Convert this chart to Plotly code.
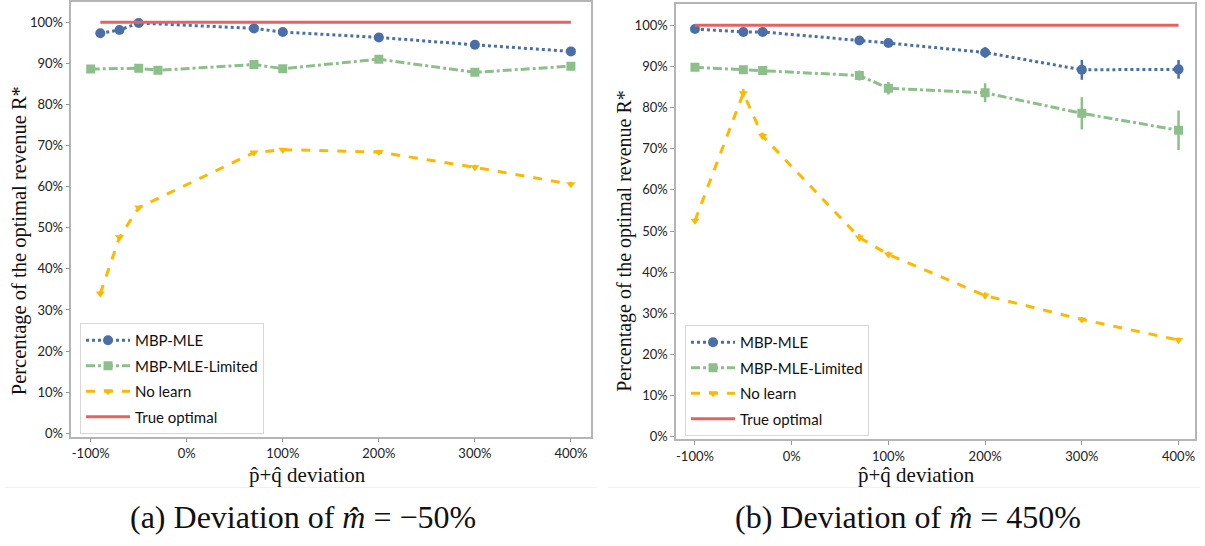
import plotly.graph_objects as go

# ---------------- data ----------------
# Panel (a): deviation of m-hat = -50%
a_mle_x = [-90, -70, -50, 70, 100, 200, 300, 400]
a_mle_y = [97.3, 98.1, 99.8, 98.5, 97.6, 96.3, 94.5, 92.9]
a_mle_err = [0.4, 0.4, 0.4, 0.4, 0.5, 0.5, 0.9, 0.9]

a_lim_x = [-100, -50, -30, 70, 100, 200, 300, 400]
a_lim_y = [88.6, 88.8, 88.3, 89.7, 88.7, 91.0, 87.8, 89.3]
a_lim_err = [0.8, 0.8, 0.8, 0.8, 0.7, 0.7, 0.8, 0.8]

a_nol_x = [-90, -70, -50, 70, 100, 200, 300, 400]
a_nol_y = [34.0, 47.7, 54.9, 68.3, 69.0, 68.4, 64.7, 60.6]
a_nol_err = [0.3, 0.3, 0.3, 0.3, 0.3, 0.3, 0.6, 0.6]

a_opt_x = [-90, 400]
a_opt_y = [100, 100]

# Panel (b): deviation of m-hat = 450%
b_mle_x = [-100, -50, -30, 70, 100, 200, 300, 400]
b_mle_y = [99.1, 98.4, 98.4, 96.3, 95.7, 93.4, 89.2, 89.3]
b_mle_err = [0.4, 0.4, 0.5, 0.7, 0.8, 1.3, 2.4, 2.3]

b_lim_x = [-100, -50, -30, 70, 100, 200, 300, 400]
b_lim_y = [89.8, 89.2, 89.0, 87.8, 84.7, 83.6, 78.6, 74.5]
b_lim_err = [0.6, 0.6, 0.8, 1.2, 1.5, 2.3, 3.9, 4.8]

b_nol_x = [-100, -50, -30, 70, 100, 200, 300, 400]
b_nol_y = [52.5, 83.5, 73.1, 48.4, 44.3, 34.3, 28.5, 23.5]
b_nol_err = [0.4, 1.0, 0.8, 0.9, 0.7, 0.8, 0.6, 0.6]

b_opt_x = [-100, 400]
b_opt_y = [100, 100]

x_ticks = [-100, 0, 100, 200, 300, 400]
x_tick_text = ["-100%", "0%", "100%", "200%", "300%", "400%"]
y_ticks = [0, 10, 20, 30, 40, 50, 60, 70, 80, 90, 100]
y_tick_text = [f"{v}%" for v in y_ticks]

names = ["MBP-MLE", "MBP-MLE-Limited", "No learn", "True optimal"]
x_title = "p̂+q̂ deviation"
y_title = "Percentage of the optimal revenue R*"
captions = ["(a) Deviation of <i>m̂</i> = −50%", "(b) Deviation of <i>m̂</i> = 450%"]

# ---------------- styles ----------------
BLUE = "#4a6fa8"
GREEN = "#8dbf8a"
ORANGE = "#ffb800"
RED = "#e26462"

W, H = 1205, 546

fig = go.Figure()


def add_panel(xa, ya, legend, data):
    (mx, my, me), (lx, ly, le), (nx, ny, ne), (ox, oy) = data
    specs = [
        (mx, my, me, names[0], BLUE, "dot", "circle", 10),
        (lx, ly, le, names[1], GREEN, "dashdot", "square", 9),
        (nx, ny, ne, names[2], ORANGE, "dash", "triangle-down", 8),
    ]
    for i, (x, y, e, nm, col, dash, sym, ms) in enumerate(specs):
        fig.add_trace(go.Scatter(
            x=x, y=y, name=nm, mode="lines+markers",
            line=dict(color=col, width=3, dash=dash),
            marker=dict(color=col, size=ms, symbol=sym),
            error_y=dict(type="data", array=e, visible=True, color=col,
                         thickness=2.5, width=0),
            xaxis=xa, yaxis=ya, legend=legend, legendgroup=f"{legend}{i}",
        ))
    fig.add_trace(go.Scatter(
        x=ox, y=oy, name=names[3], mode="lines",
        line=dict(color=RED, width=3),
        xaxis=xa, yaxis=ya, legend=legend, legendgroup=f"{legend}3",
    ))


add_panel("x", "y", "legend",
          [(a_mle_x, a_mle_y, a_mle_err), (a_lim_x, a_lim_y, a_lim_err),
           (a_nol_x, a_nol_y, a_nol_err), (a_opt_x, a_opt_y)])
add_panel("x2", "y2", "legend2",
          [(b_mle_x, b_mle_y, b_mle_err), (b_lim_x, b_lim_y, b_lim_err),
           (b_nol_x, b_nol_y, b_nol_err), (b_opt_x, b_opt_y)])

tick_font = dict(family="Lato, 'Open Sans', sans-serif", size=13, color="#222")
axis_common = dict(showline=True, mirror=True, linecolor="#b5b5b5", linewidth=1.5,
                   ticks="outside", ticklen=4, tickcolor="#999", tickwidth=1,
                   showgrid=False, zeroline=False, tickfont=tick_font)


def px_x(p):
    return p / W


def px_y(p):
    return 1 - p / H


legend_common = dict(xanchor="left", yanchor="top",
                     bgcolor="white", bordercolor="#d8d8d8", borderwidth=1,
                     font=dict(family="Lato, sans-serif", size=15, color="#111"),
                     itemwidth=44, tracegroupgap=3)

fig.update_layout(
    width=W, height=H,
    margin=dict(l=0, r=0, t=0, b=0),
    paper_bgcolor="white", plot_bgcolor="white",
    xaxis=dict(domain=[px_x(71.3), px_x(590.5)], range=[-120.2, 420.4],
               tickvals=x_ticks, ticktext=x_tick_text, anchor="y", **axis_common),
    yaxis=dict(domain=[px_y(440.7), px_y(2.5)], range=[-0.82, 104.8],
               tickvals=y_ticks, ticktext=y_tick_text, anchor="x", **axis_common),
    xaxis2=dict(domain=[px_x(676), px_x(1195)], range=[-119.6, 417.0],
                tickvals=x_ticks, ticktext=x_tick_text, anchor="y2", **axis_common),
    yaxis2=dict(domain=[px_y(443.3), px_y(4)], range=[-0.63, 105.2],
                tickvals=y_ticks, ticktext=y_tick_text, anchor="x2", **axis_common),
    legend=dict(x=px_x(80), y=px_y(326), **legend_common),
    legend2=dict(x=px_x(685), y=px_y(328), **legend_common),
    showlegend=True,
    shapes=[
        dict(type="line", xref="paper", yref="paper", x0=px_x(5), x1=px_x(597),
             y0=px_y(492), y1=px_y(492), line=dict(color="#f1f1f1", width=1)),
        dict(type="line", xref="paper", yref="paper", x0=px_x(608), x1=px_x(1200),
             y0=px_y(492), y1=px_y(492), line=dict(color="#f1f1f1", width=1)),
    ],
)

serif = "'Liberation Serif', 'DejaVu Serif', serif"
annots = []
# x axis titles
for cx in [307, 916]:
    annots.append(dict(text=x_title, x=px_x(cx), y=px_y(465), xref="paper", yref="paper",
                       xanchor="center", yanchor="top", showarrow=False,
                       font=dict(family=serif, size=21, color="#111")))
# y axis titles
for cx, cy, fs in [(19.5, 243, 20.5), (625, 243, 20)]:
    annots.append(dict(text=y_title, x=px_x(cx), y=px_y(cy),
                       xref="paper", yref="paper", xanchor="center", yanchor="middle",
                       textangle=-90, showarrow=False,
                       font=dict(family=serif, size=fs, color="#111")))
# captions
for cx, cap in zip([302.6, 907.8], captions):
    annots.append(dict(text=cap, x=px_x(cx), y=px_y(522), xref="paper", yref="paper",
                       xanchor="center", yanchor="middle", showarrow=False,
                       font=dict(family=serif, size=32, color="#111")))
fig.update_layout(annotations=annots)

fig.write_html("out.html")
